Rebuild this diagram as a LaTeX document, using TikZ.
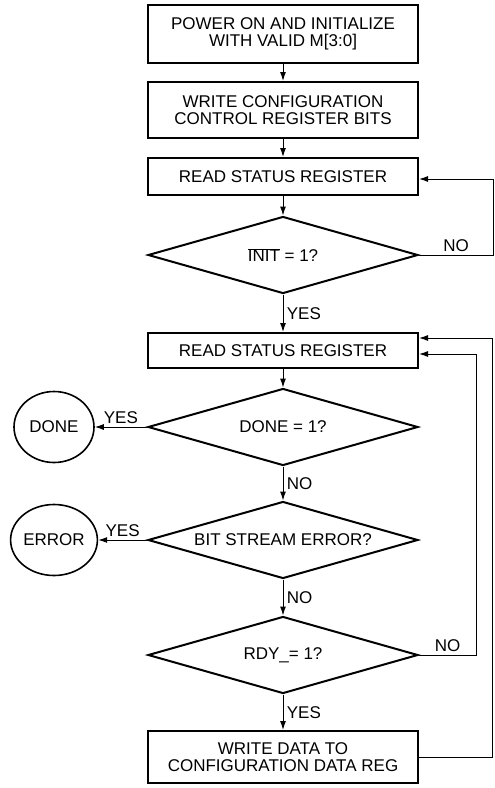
\documentclass[tikz,border=0pt]{standalone}
\usepackage{fontspec}
\setmainfont{Liberation Sans}
\usetikzlibrary{shapes.geometric,arrows.meta}

\begin{document}
\begin{tikzpicture}[x=1pt,y=-1pt,->,>={Latex[length=9pt,width=6pt]},line width=1pt,
  font=\fontsize{17}{17}\selectfont,
  box/.style={draw,line width=2pt,minimum width=270pt,align=center,inner sep=0pt},
  decision/.style={draw,diamond,aspect=3.5,line width=2pt,minimum width=270pt,minimum height=77pt,inner sep=0pt},
  stopper/.style={draw,ellipse,line width=1.6pt,minimum width=80pt,minimum height=71pt,inner sep=0pt}]
\useasboundingbox (0,0) rectangle (495,788);
\node[box,minimum height=58pt] (pwr) at (283,34) {POWER ON AND INITIALIZE\\WITH VALID M[3:0]};
\node[box,minimum height=56pt] (wcfg) at (283,110) {WRITE CONFIGURATION\\CONTROL REGISTER BITS};
\node[box,minimum height=37pt] (rd1) at (283,176.5) {READ STATUS REGISTER};
\node[decision] (init) at (283,255) {$\overline{\mbox{INIT}}$ = 1?};
\node[box,minimum height=35pt] (rd2) at (283,350.5) {READ STATUS REGISTER};
\node[decision] (done) at (283,427) {DONE = 1?};
\node[decision] (err) at (283,540) {BIT STREAM ERROR?};
\node[decision] (rdy) at (283,655) {RDY\_= 1?};
\node[box,minimum height=52pt] (wdat) at (283,757) {WRITE DATA TO\\CONFIGURATION DATA REG};
\node[stopper] (fin) at (54,427) {DONE};
\node[stopper] (fail) at (54,540) {ERROR};
\coordinate (k1) at (493,179);
\coordinate (k2) at (476,354);
\coordinate (k3) at (492,338);
\draw (pwr) -- (wcfg);
\draw (wcfg) -- (rd1);
\draw (rd1) -- (init);
\draw (init) -- node[right]{YES} (rd2);
\draw (rd2) -- (done);
\draw (done) -- node[above]{YES} (fin);
\draw (done) -- node[right]{NO} (err);
\draw (err) -- node[above]{YES} (fail);
\draw (err) -- node[right]{NO} (rdy);
\draw (rdy) -- node[right]{YES} (wdat);
\draw (init.east) -| node[pos=0.25,above]{NO} (k1) -- (k1 -| rd1.east);
\draw (rdy.east) -| node[pos=0.25,above]{NO} (k2) -- (k2 -| rd2.east);
\draw (wdat.east) -| (k3) -- (k3 -| rd2.east);
\end{tikzpicture}
\end{document}
